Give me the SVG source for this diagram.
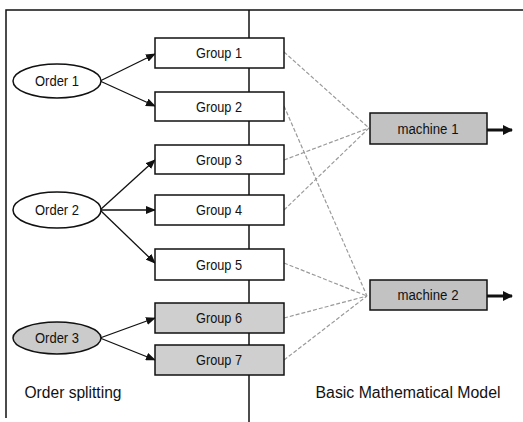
<svg xmlns="http://www.w3.org/2000/svg" width="523" height="422" viewBox="0 0 523 422">
<style>
text{font-family:"Liberation Sans",Arial,sans-serif;fill:#111;text-anchor:middle}
.box{fill:#fff;stroke:#111;stroke-width:1.5}
.gbox{fill:#cfcfcf;stroke:#111;stroke-width:1.5}
.mbox{fill:#c2c2c2;stroke:#111;stroke-width:1.5}
.ell{fill:#fff;stroke:#111;stroke-width:1.5}
.gell{fill:#cbcbcb;stroke:#111;stroke-width:1.5}
.arr{stroke:#111;stroke-width:1.3;fill:none;marker-end:url(#ah)}
.dot{stroke:#9a9a9a;stroke-width:1.2;fill:none;stroke-dasharray:4 2}
.out{stroke:#111;stroke-width:3;fill:none;marker-end:url(#ah2)}
.frame{stroke:#111;stroke-width:1.5;fill:none}
</style>
<defs>
<marker id="ah" markerWidth="10" markerHeight="8" refX="9" refY="4" orient="auto" markerUnits="userSpaceOnUse">
<path d="M0,0 L10,4 L0,8 Z" fill="#111"/>
</marker>
<marker id="ah2" markerWidth="10" markerHeight="10" refX="9" refY="5" orient="auto" markerUnits="userSpaceOnUse">
<path d="M0,0 L10,5 L0,10 Z" fill="#111"/>
</marker>
</defs>
<g id="frame">
<path class="frame" d="M6,418 L6,10 L523,10"/>
<path class="frame" d="M249,10 L249,422"/>
</g>
<g id="connectors">
<path class="arr" d="M100,81 L155,54"/>
<path class="arr" d="M100,81 L155,106"/>
<path class="arr" d="M100,210 L155,160"/>
<path class="arr" d="M100,210 L155,210"/>
<path class="arr" d="M100,210 L155,263"/>
<path class="arr" d="M100,338 L155,318"/>
<path class="arr" d="M100,338 L155,360"/>
<path class="dot" d="M284,52 L369,128"/>
<path class="dot" d="M284,160 L369,128"/>
<path class="dot" d="M284,210 L369,128"/>
<path class="dot" d="M284,106 L367,296"/>
<path class="dot" d="M284,263 L367,296"/>
<path class="dot" d="M284,318 L367,296"/>
<path class="dot" d="M284,360 L367,296"/>
<path class="out" d="M487,130 L512,130"/>
<path class="out" d="M487,296 L512,296"/>
</g>
<g id="order1"><ellipse class="ell" cx="57" cy="81" rx="44" ry="17"/><text x="57" y="86" font-size="14" textLength="44" lengthAdjust="spacingAndGlyphs">Order 1</text></g>
<g id="order2"><ellipse class="ell" cx="57" cy="210" rx="44" ry="18"/><text x="57" y="215" font-size="14" textLength="44" lengthAdjust="spacingAndGlyphs">Order 2</text></g>
<g id="order3"><ellipse class="gell" cx="57" cy="338" rx="44" ry="16"/><text x="57" y="343" font-size="14" textLength="44" lengthAdjust="spacingAndGlyphs">Order 3</text></g>
<g id="group1"><rect class="box" x="155" y="38" width="129" height="30"/><text x="219" y="58" font-size="15" textLength="46" lengthAdjust="spacingAndGlyphs">Group 1</text></g>
<g id="group2"><rect class="box" x="155" y="92" width="129" height="29"/><text x="219" y="112" font-size="15" textLength="46" lengthAdjust="spacingAndGlyphs">Group 2</text></g>
<g id="group3"><rect class="box" x="155" y="145" width="129" height="29"/><text x="219" y="165" font-size="15" textLength="46" lengthAdjust="spacingAndGlyphs">Group 3</text></g>
<g id="group4"><rect class="box" x="155" y="195" width="129" height="30"/><text x="219" y="215" font-size="15" textLength="46" lengthAdjust="spacingAndGlyphs">Group 4</text></g>
<g id="group5"><rect class="box" x="155" y="249" width="129" height="31"/><text x="219" y="270" font-size="15" textLength="46" lengthAdjust="spacingAndGlyphs">Group 5</text></g>
<g id="group6"><rect class="gbox" x="155" y="303" width="129" height="30"/><text x="219" y="323" font-size="15" textLength="46" lengthAdjust="spacingAndGlyphs">Group 6</text></g>
<g id="group7"><rect class="gbox" x="155" y="345" width="129" height="30"/><text x="219" y="365" font-size="15" textLength="46" lengthAdjust="spacingAndGlyphs">Group 7</text></g>
<g id="machine1"><rect class="mbox" x="370" y="113" width="117" height="31"/><text x="428" y="134" font-size="14" textLength="61" lengthAdjust="spacingAndGlyphs">machine 1</text></g>
<g id="machine2"><rect class="mbox" x="370" y="280" width="117" height="30"/><text x="428" y="300" font-size="14" textLength="61" lengthAdjust="spacingAndGlyphs">machine 2</text></g>
<g id="labels">
<text x="73" y="398" font-size="16" textLength="97" lengthAdjust="spacingAndGlyphs">Order splitting</text>
<text x="408" y="398" font-size="16" textLength="185" lengthAdjust="spacingAndGlyphs">Basic Mathematical Model</text>
</g>
</svg>
